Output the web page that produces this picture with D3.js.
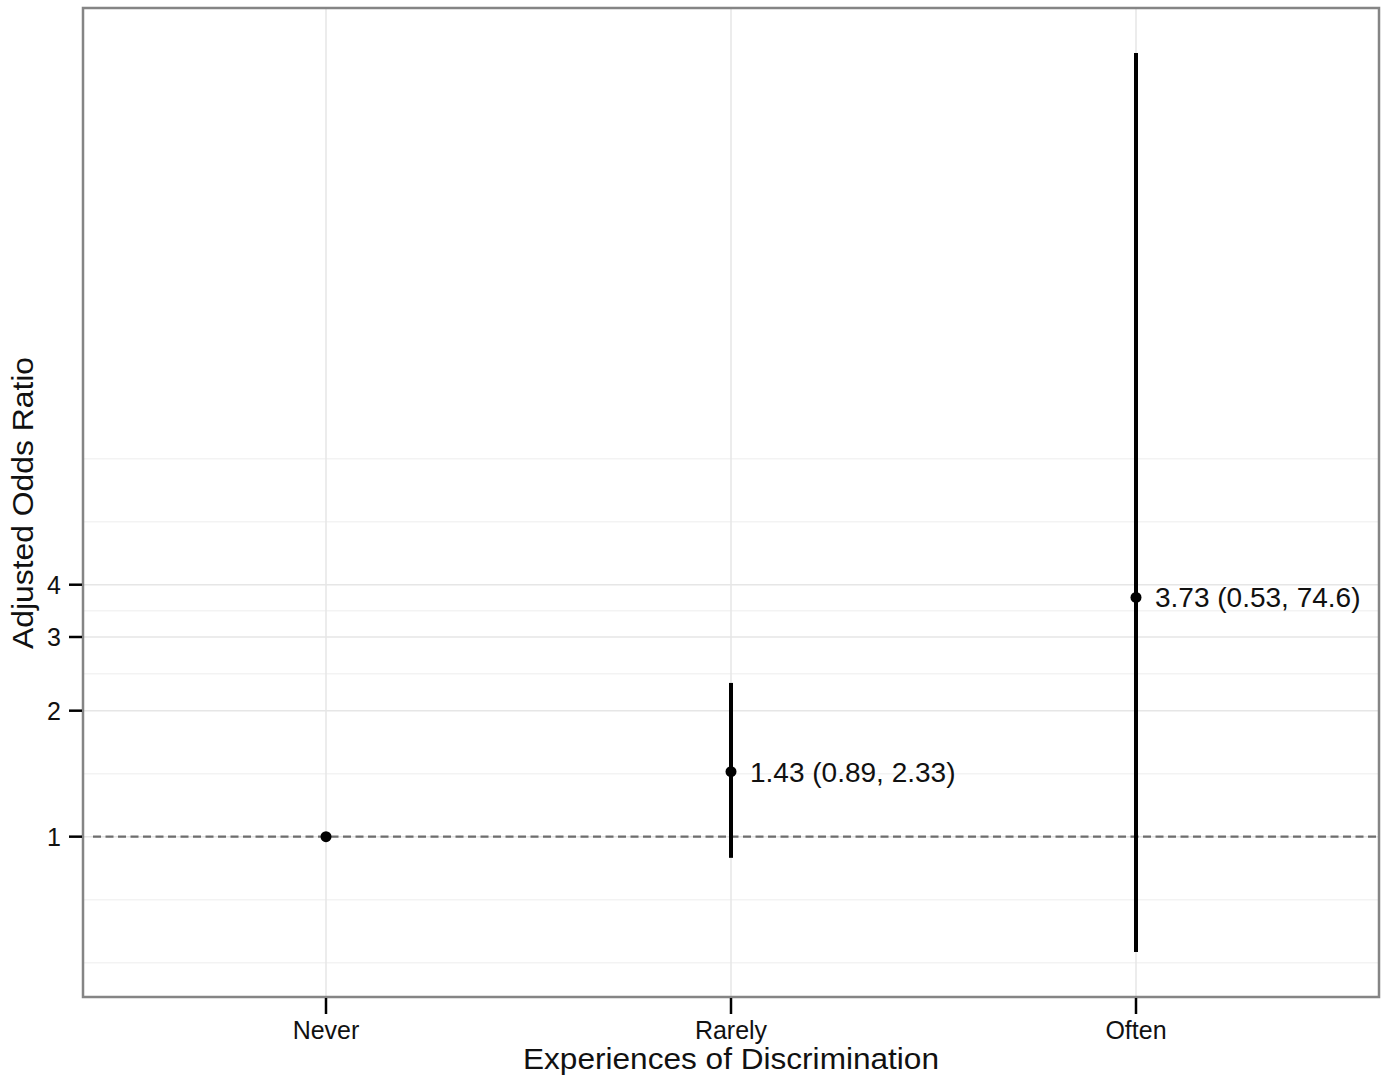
<!DOCTYPE html>
<html>
<head>
<meta charset="UTF-8"/>
<script src="https://cdn.jsdelivr.net/npm/d3@7"></script>
<style>
  body { margin: 0; background: #fff; }
  text { font-family: "Liberation Sans", Arial, sans-serif; fill: #111; }
</style>
</head>
<body>
<script>
// data
var categories = ["Never", "Rarely", "Often"];
var oddsRatio  = [1, 1.43, 3.73];
var ciLow      = [1, 0.89, 0.53];
var ciHigh     = [1, 2.33, 74.6];
var labels     = ["", "1.43 (0.89, 2.33)", "3.73 (0.53, 74.6)"];
var yTicks     = [1, 2, 3, 4];
var yMinor     = [0.5, Math.SQRT1_2, Math.SQRT2, Math.sqrt(6), Math.sqrt(12), Math.sqrt(32), 8];

var W = 1387, H = 1080;
// panel edges (note: "top" is a reserved window prop, so use pTop etc.)
var pLeft = 83, pTop = 8, pRight = 1379, pBottom = 997;

var svg = d3.select("body").append("svg")
  .attr("width", W)
  .attr("height", H);

var x = d3.scalePoint()
  .domain(categories)
  .range([pLeft, pRight])
  .padding(0.6);

// ggplot style 5% expansion in log space
var lo = Math.log(d3.min(ciLow)), hi = Math.log(d3.max(ciHigh));
var pad = (hi - lo) * 0.05;
var y = d3.scaleLog()
  .domain([Math.exp(lo - pad), Math.exp(hi + pad)])
  .range([pBottom, pTop]);

var rows = categories.map(function(c, i){
  return { cat: c, or: oddsRatio[i], lo: ciLow[i], hi: ciHigh[i], label: labels[i] };
});

// grid
svg.append("g").selectAll("line")
  .data(yMinor).enter().append("line")
    .attr("x1", pLeft).attr("x2", pRight)
    .attr("y1", function(d){ return y(d); })
    .attr("y2", function(d){ return y(d); })
    .attr("stroke", "#f3f3f3")
    .attr("stroke-width", 1.5);

svg.append("g").selectAll("line")
  .data(yTicks).enter().append("line")
    .attr("x1", pLeft).attr("x2", pRight)
    .attr("y1", function(d){ return y(d); })
    .attr("y2", function(d){ return y(d); })
    .attr("stroke", "#e6e6e6")
    .attr("stroke-width", 1.5);

svg.append("g").selectAll("line")
  .data(categories).enter().append("line")
    .attr("x1", function(d){ return x(d); })
    .attr("x2", function(d){ return x(d); })
    .attr("y1", pTop).attr("y2", pBottom)
    .attr("stroke", "#e6e6e6")
    .attr("stroke-width", 1.5);

// reference line at 1
svg.append("line")
  .attr("x1", pLeft + 10).attr("x2", pRight)
  .attr("y1", y(1)).attr("y2", y(1))
  .attr("stroke", "#6e6e6e")
  .attr("stroke-width", 2.2)
  .attr("stroke-dasharray", "8,4.5");

// error bars + points
var g = svg.append("g");
g.selectAll("line.ci")
  .data(rows).enter().append("line")
    .attr("class", "ci")
    .attr("x1", function(d){ return x(d.cat); })
    .attr("x2", function(d){ return x(d.cat); })
    .attr("y1", function(d){ return y(d.lo); })
    .attr("y2", function(d){ return y(d.hi); })
    .attr("stroke", "#000")
    .attr("stroke-width", 4);

g.selectAll("circle")
  .data(rows).enter().append("circle")
    .attr("cx", function(d){ return x(d.cat); })
    .attr("cy", function(d){ return y(d.or); })
    .attr("r", 5.5)
    .attr("fill", "#000");

g.selectAll("text.lab")
  .data(rows).enter().append("text")
    .attr("class", "lab")
    .attr("x", function(d){ return x(d.cat) + 19; })
    .attr("y", function(d){ return y(d.or); })
    .attr("dy", "0.36em")
    .attr("font-size", 28)
    .text(function(d){ return d.label; });

// panel border
svg.append("rect")
  .attr("x", pLeft).attr("y", pTop)
  .attr("width", pRight - pLeft).attr("height", pBottom - pTop)
  .attr("fill", "none")
  .attr("stroke", "#858585")
  .attr("stroke-width", 2.5);

// y axis
var yAxis = svg.append("g");
yAxis.selectAll("line")
  .data(yTicks).enter().append("line")
    .attr("x1", 69).attr("x2", pLeft - 1)
    .attr("y1", function(d){ return y(d); })
    .attr("y2", function(d){ return y(d); })
    .attr("stroke", "#000")
    .attr("stroke-width", 2.5);
yAxis.selectAll("text")
  .data(yTicks).enter().append("text")
    .attr("x", 61)
    .attr("y", function(d){ return y(d); })
    .attr("dy", "0.36em")
    .attr("text-anchor", "end")
    .attr("font-size", 25)
    .text(function(d){ return d; });

// x axis
var xAxis = svg.append("g");
xAxis.selectAll("line")
  .data(categories).enter().append("line")
    .attr("x1", function(d){ return x(d); })
    .attr("x2", function(d){ return x(d); })
    .attr("y1", pBottom + 1).attr("y2", 1014)
    .attr("stroke", "#000")
    .attr("stroke-width", 2.5);
xAxis.selectAll("text")
  .data(categories).enter().append("text")
    .attr("x", function(d){ return x(d); })
    .attr("y", 1039)
    .attr("text-anchor", "middle")
    .attr("font-size", 25)
    .text(function(d){ return d; });

// titles
svg.append("text")
  .attr("x", (pLeft + pRight) / 2)
  .attr("y", 1069)
  .attr("text-anchor", "middle")
  .attr("font-size", 29)
  .attr("textLength", 416)
  .attr("lengthAdjust", "spacingAndGlyphs")
  .text("Experiences of Discrimination");

svg.append("text")
  .attr("transform", "translate(33,503) rotate(-90)")
  .attr("text-anchor", "middle")
  .attr("font-size", 29)
  .attr("textLength", 292)
  .attr("lengthAdjust", "spacingAndGlyphs")
  .text("Adjusted Odds Ratio");
</script>
</body>
</html>
